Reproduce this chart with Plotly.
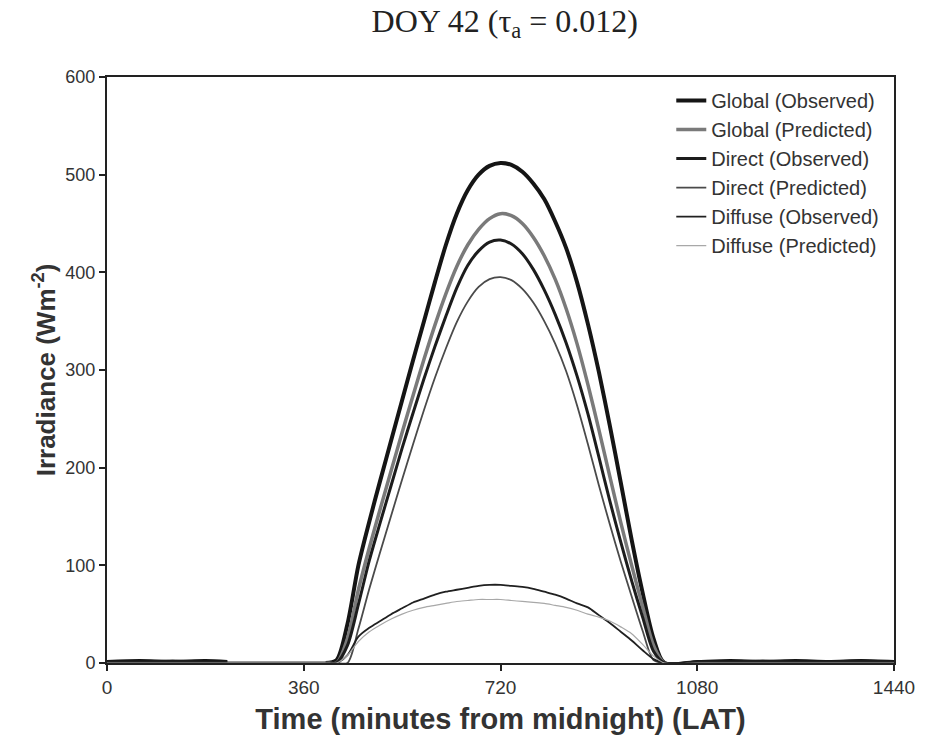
import plotly.graph_objects as go

# Time (minutes from midnight, LAT)
minutes = [0, 60, 120, 180, 220, 300, 360, 400, 420, 440, 460, 480, 500, 520, 540, 560, 580,
           600, 620, 640, 660, 680, 700, 720, 740, 760, 780, 800, 820, 840, 860, 880,
           900, 920, 940, 960, 980, 1000, 1020, 1080, 1140, 1200, 1260, 1320, 1380, 1440]

global_obs = [1, 2, 1, 2, 1, None, None, 0, 3, 40, 100, 145, 187, 228, 269, 310, 350,
              390, 428, 460, 484, 500, 509, 512, 510, 503, 491, 475, 452, 425, 390, 347,
              298, 243, 185, 126, 72, 25, 0, 1, 2, 1, 2, 1, 2, 1]
global_pred = [0, 0, 0, 0, 0, 0, 0, 0, 0, 25, 75, 118, 158, 197, 236, 274, 311,
               346, 378, 406, 428, 444, 455, 460, 458, 450, 436, 417, 393, 363, 327, 285,
               239, 191, 144, 100, 58, 18, 0, 0, 0, 0, 0, 0, 0, 0]
direct_obs = [1, 1, 2, 1, 1, None, None, 0, 0, 18, 60, 105, 144, 182, 220, 256, 291,
              324, 355, 384, 407, 422, 431, 433, 429, 419, 403, 382, 357, 328, 294, 255,
              211, 166, 124, 84, 47, 12, 0, 1, 1, 2, 1, 1, 2, 1]
direct_pred = [0, 0, 0, 0, 0, 0, 0, 0, 0, 0, 35, 76, 114, 151, 188, 224, 259,
               292, 322, 349, 370, 385, 393, 395, 392, 383, 369, 350, 327, 299, 264, 224,
               182, 142, 104, 68, 33, 3, 0, 0, 0, 0, 0, 0, 0, 0]
diffuse_obs = [1, 1, 1, 1, 1, None, None, 0, 0, 8, 27, 36, 43, 50, 56, 62, 66,
               70, 73, 75, 77, 79, 80, 80, 79, 78, 76, 73, 70, 66, 61, 57,
               49, 41, 32, 23, 13, 4, 0, 1, 1, 1, 1, 1, 1, 1]
diffuse_pred = [0, 0, 0, 0, 0, 0, 0, 0, 0, 8, 22, 32, 39, 45, 50, 54, 57,
                59, 61, 63, 64, 65, 65, 65, 64, 63, 62, 61, 59, 57, 54, 50,
                47, 43, 37, 30, 19, 7, 0, 0, 0, 0, 0, 0, 0, 0]

series_names = ["Global (Observed)", "Global (Predicted)", "Direct (Observed)",
                "Direct (Predicted)", "Diffuse (Observed)", "Diffuse (Predicted)"]
series_values = [global_obs, global_pred, direct_obs, direct_pred, diffuse_obs, diffuse_pred]
series_colors = ["#151515", "#7a7a7a", "#1c1c1c", "#4a4a4a", "#202020", "#a8a8a8"]
series_widths = [4, 3.5, 3, 1.8, 1.8, 1.2]

x_ticks = [0, 360, 720, 1080, 1440]
y_ticks = [0, 100, 200, 300, 400, 500, 600]

fig = go.Figure()
for name, vals, col, w in zip(series_names, series_values, series_colors, series_widths):
    fig.add_trace(go.Scatter(
        x=minutes, y=vals, name=name, mode="lines",
        line=dict(color=col, width=w, shape="spline", smoothing=0.8),
        connectgaps=False,
    ))

fig.update_layout(
    width=927, height=754,
    paper_bgcolor="white", plot_bgcolor="white",
    margin=dict(l=107, r=27, t=77, b=91),
    title=dict(text="DOY 42 (τ<sub>a</sub> = 0.012)", x=0.5445, xanchor="center",
               y=0.973, yanchor="middle",
               font=dict(family="Liberation Serif", size=32, color="#222")),
    font=dict(family="Liberation Sans", color="#333"),
    legend=dict(x=0.717, y=0.993, xanchor="left", yanchor="top",
                bgcolor="rgba(255,255,255,0)", font=dict(size=20, color="#333"),
                tracegroupgap=0),
    showlegend=True,
)
fig.update_xaxes(
    range=[0, 1440], tickvals=x_ticks, ticktext=[str(v) for v in x_ticks],
    showline=True, linewidth=2, linecolor="#222", mirror=True,
    ticks="outside", ticklen=6, tickwidth=2, tickcolor="#222",
    showgrid=False, zeroline=False,
    tickfont=dict(size=19, color="#333"),
    title=dict(text="<b>Time (minutes from midnight) (LAT)</b>",
               font=dict(size=29, color="#333"), standoff=12),
)
fig.update_yaxes(
    range=[0, 600], tickvals=y_ticks,
    showline=True, linewidth=2, linecolor="#222", mirror=True,
    ticks="outside", ticklen=6, tickwidth=2, tickcolor="#222",
    showgrid=False, zeroline=False,
    tickfont=dict(size=18, color="#333"),
    title=dict(text="<b>Irradiance (Wm<sup>-2</sup>)</b>",
               font=dict(size=26, color="#333"), standoff=2),
)

fig.write_html("out.html")
